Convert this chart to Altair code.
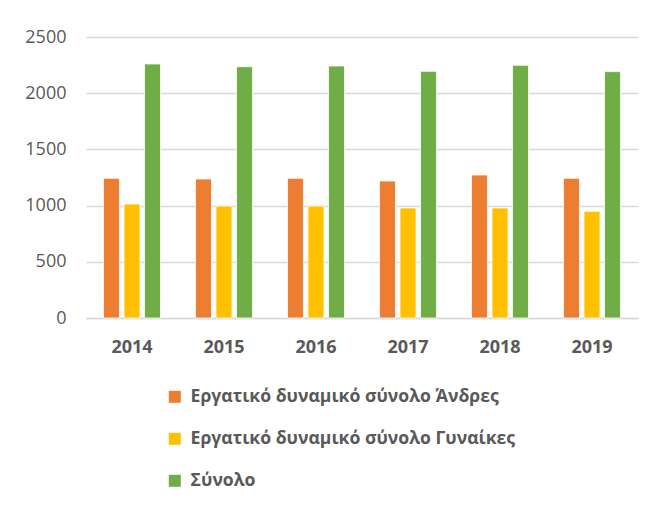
import altair as alt
import pandas as pd

years = ["2014", "2015", "2016", "2017", "2018", "2019"]
men = [1243, 1237, 1243, 1219, 1272, 1243]
women = [1014, 996, 996, 979, 979, 949]
total = [2260, 2236, 2242, 2195, 2248, 2192]

series = ["Εργατικό δυναμικό σύνολο Άνδρες", "Εργατικό δυναμικό σύνολο Γυναίκες", "\u00a0Σύνολο"]
colors = ["#ED7D31", "#FFC000", "#70AD47"]

rows = []
for i, y in enumerate(years):
    for s, vals in zip(series, [men, women, total]):
        rows.append({"year": y, "series": s, "value": vals[i]})
df = pd.DataFrame(rows)

FONT = "Open Sans"
GRAY = "#595959"

chart = alt.Chart(df).mark_bar(stroke="white", strokeWidth=0.8).encode(
    x=alt.X("year:N", title=None, sort=years,
            scale=alt.Scale(paddingInner=0.33, paddingOuter=0.165),
            axis=alt.Axis(labelAngle=0, labelFont=FONT, labelFontSize=18, labelFontWeight="bold",
                          labelColor=GRAY, ticks=False, domain=True, domainColor="#d9d9d9",
                          domainWidth=1.5, grid=False, labelPadding=20)),
    xOffset=alt.XOffset("series:N", sort=series,
                        scale=alt.Scale(paddingInner=0.22, paddingOuter=0.11)),
    y=alt.Y("value:Q", title=None,
            scale=alt.Scale(domain=[0, 2500], nice=False),
            axis=alt.Axis(values=[0, 500, 1000, 1500, 2000, 2500], format="d", labelFont=FONT,
                          labelFontSize=18, labelColor=GRAY, ticks=False, domain=False,
                          gridColor="#d9d9d9", gridWidth=1.5, labelPadding=20)),
    color=alt.Color("series:N", sort=series,
                    scale=alt.Scale(domain=series, range=colors),
                    legend=alt.Legend(title=None, orient="none", legendX=80, legendY=351,
                                      direction="vertical", symbolType="square", symbolSize=144,
                                      symbolStrokeWidth=0, labelFont=FONT, labelFontSize=17.6,
                                      labelFontWeight="bold", labelColor=GRAY, rowPadding=23,
                                      labelOffset=7, padding=0, labelLimit=500)),
).properties(
    width=552, height=281,
    background="white",
    autosize=alt.AutoSizeParams(type="none"),
    padding={"left": 78, "top": 29, "right": 14, "bottom": 180},
).configure_view(strokeWidth=0, stroke="transparent")

chart.save("out.html", embed_options={"renderer": "svg", "actions": False})
